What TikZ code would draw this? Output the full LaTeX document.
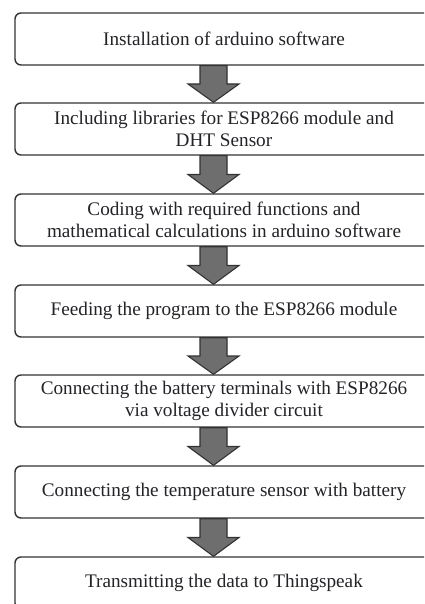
\documentclass[tikz,border=0pt]{standalone}
\usepackage{fontspec}
\setmainfont{Liberation Serif}
\usetikzlibrary{calc}
\definecolor{boxline}{HTML}{333333}
\definecolor{arrowfill}{HTML}{6E6E6E}
\definecolor{txt}{HTML}{232328}
\tikzset{
  stepbox/.style={draw=boxline, line width=1.4pt, fill=white, rounded corners=6pt,
    minimum width=418pt, minimum height=52pt, inner sep=0pt, align=center,
    text=txt, font=\fontsize{19.2}{22}\selectfont},
  barrow/.style={draw=boxline, line width=1.1pt, fill=arrowfill, line join=miter}
}
\newcommand\blockarrow[2]{%
  \draw[barrow] let \p1=(#1.south), \p2=(#2.north), \n1={0.5*\y1+0.5*\y2} in
   (\x1-24pt,\y1) -- (\x1-24pt,\n1) -- (\x1-36pt,\n1) -- (\x1-10.5pt,\y2)
   -- (\x1+15pt,\n1) -- (\x1+3pt,\n1) -- (\x1+3pt,\y1) -- cycle;}
\begin{document}
\begin{tikzpicture}[x=1pt,y=-1pt]
\useasboundingbox (0,0) rectangle (424,604);
\clip (0,0) rectangle (424,604);
\fill[white] (0,0) rectangle (424,604);
\node[stepbox] (s1) at (224,39) {Installation of arduino software};
\node[stepbox] (s2) at (224,129) {Including libraries for ESP8266 module and\\DHT Sensor};
\node[stepbox] (s3) at (224,220) {Coding with required functions and\\mathematical calculations in arduino software};
\node[stepbox] (s4) at (224,311) {Feeding the program to the ESP8266 module};
\node[stepbox] (s5) at (224,401) {Connecting the battery terminals with ESP8266\\via voltage divider circuit};
\node[stepbox] (s6) at (224,492) {Connecting the temperature sensor with battery};
\node[stepbox] (s7) at (224,583) {Transmitting the data to Thingspeak};
\blockarrow{s1}{s2}
\blockarrow{s2}{s3}
\blockarrow{s3}{s4}
\blockarrow{s4}{s5}
\blockarrow{s5}{s6}
\blockarrow{s6}{s7}
\end{tikzpicture}
\end{document}
